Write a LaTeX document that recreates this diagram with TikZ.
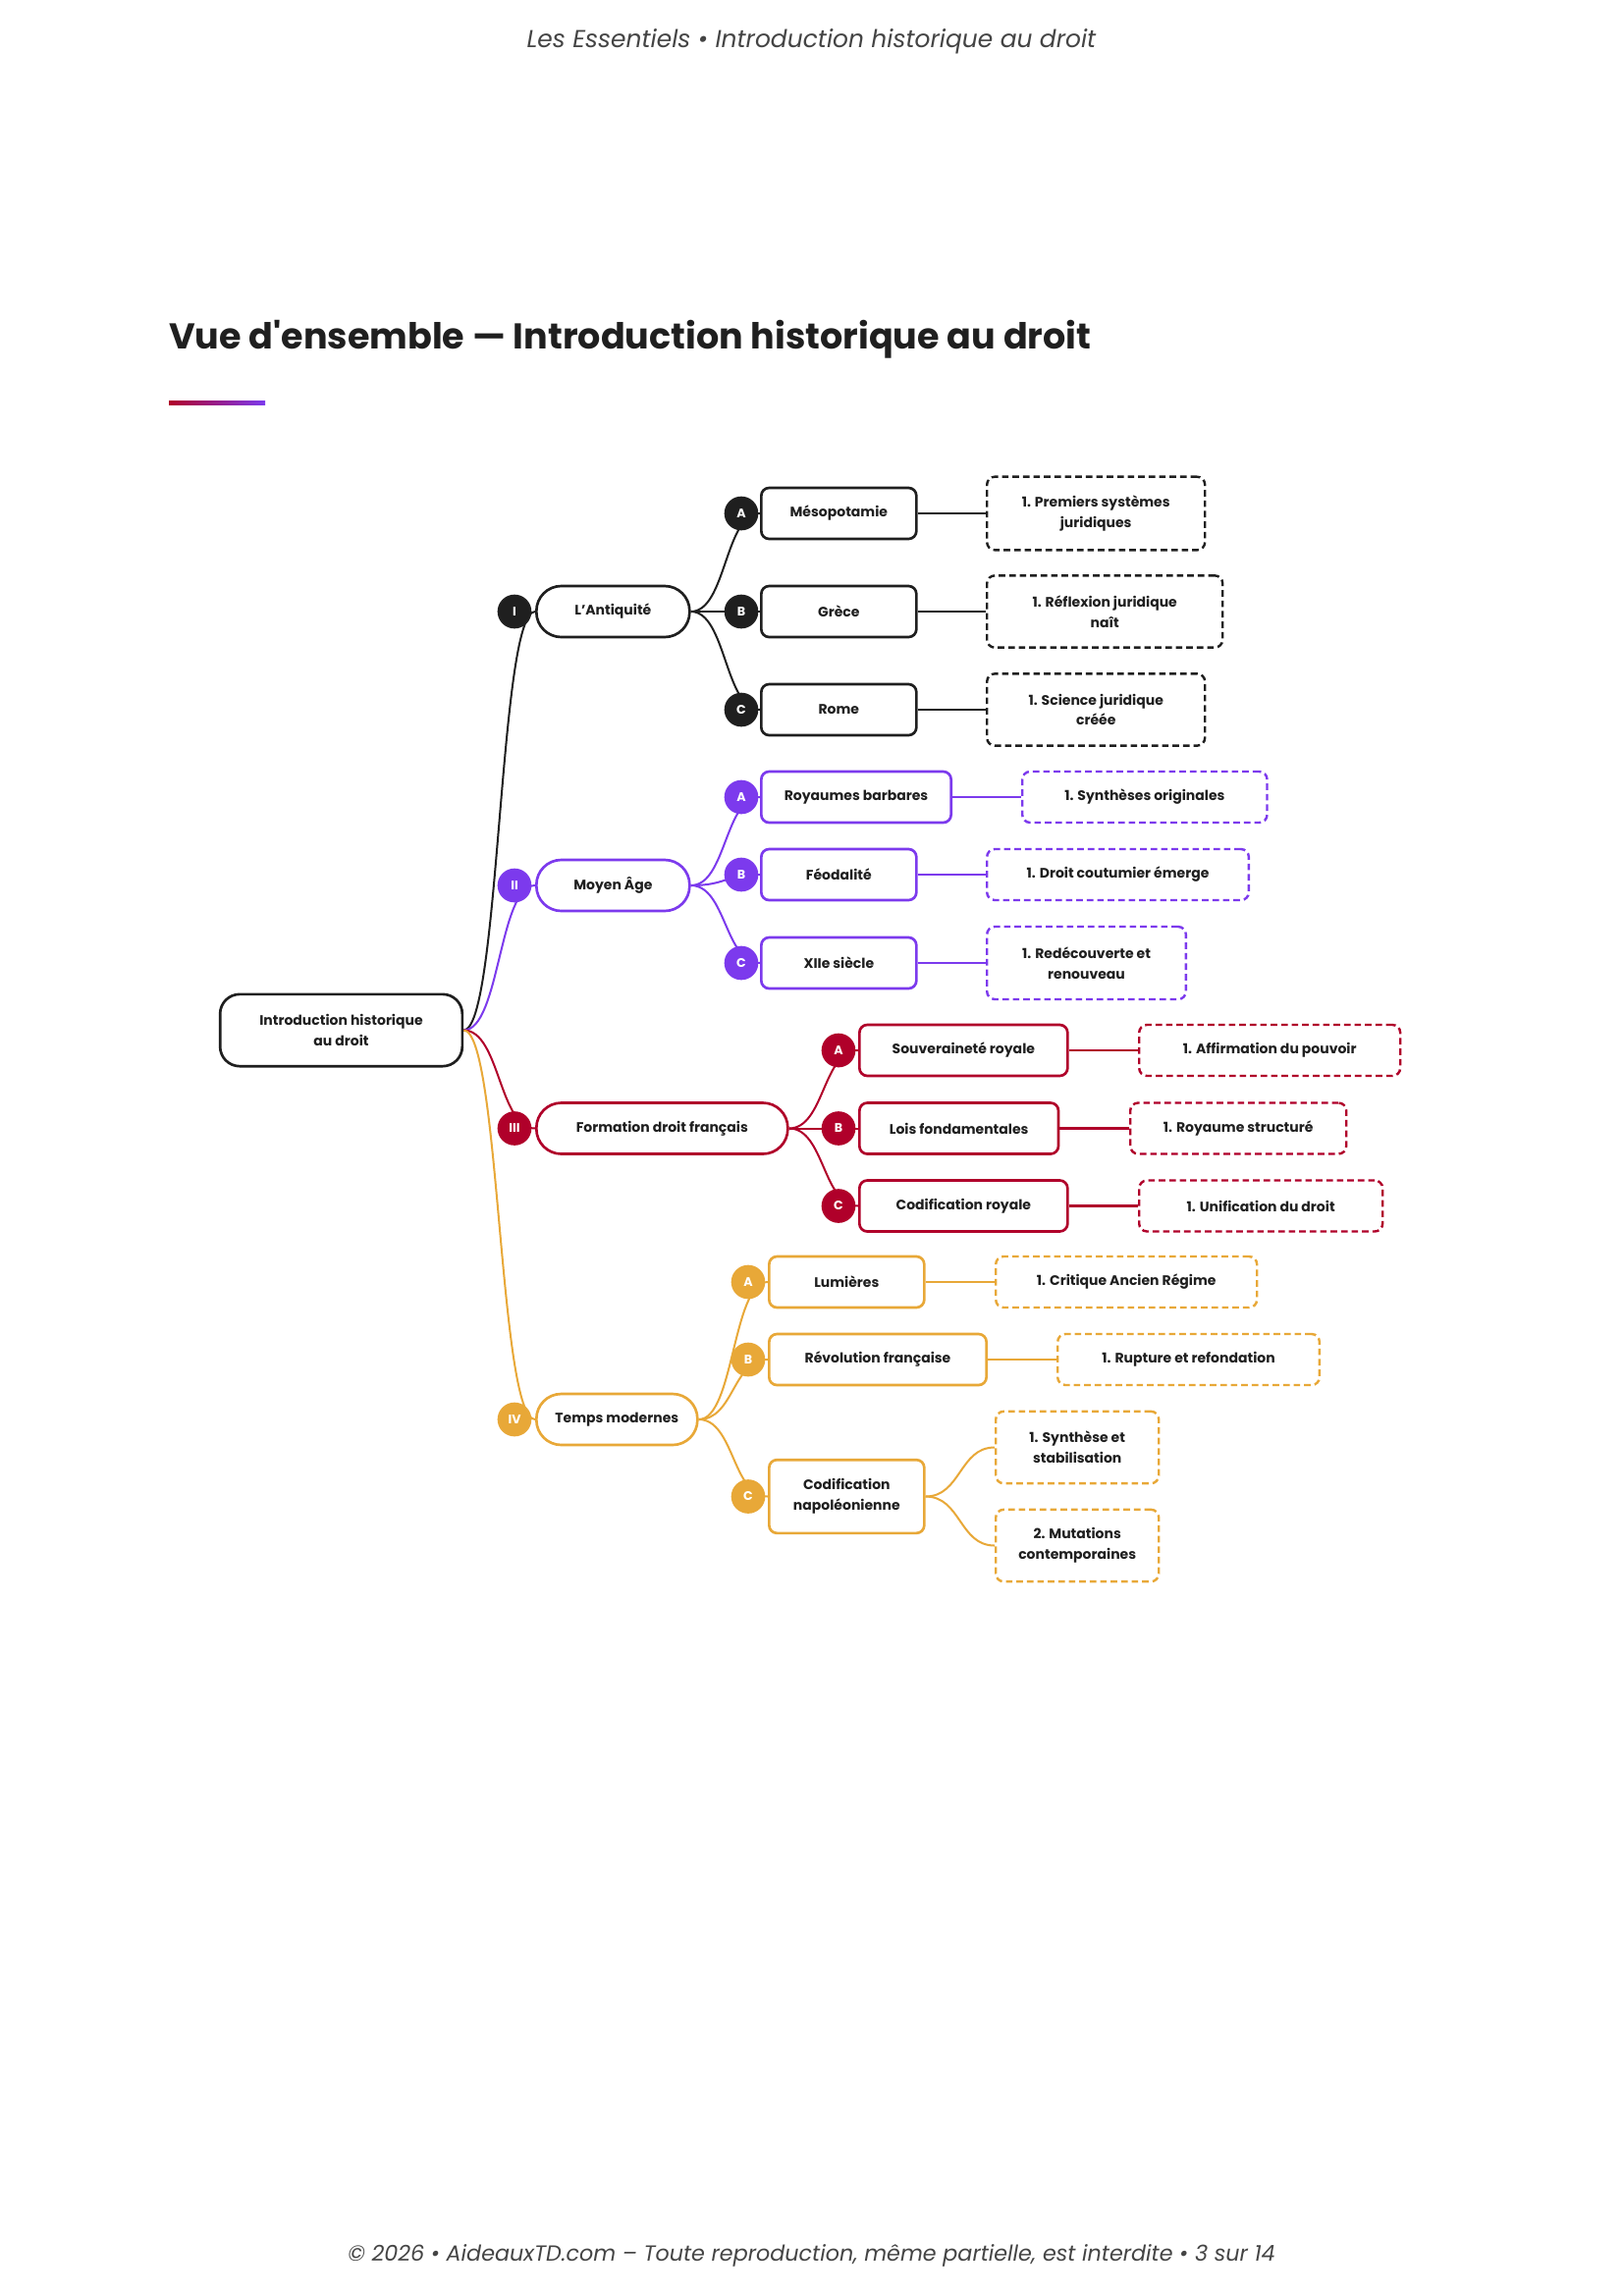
\documentclass[tikz,border=0pt]{standalone}
\usepackage{fontspec}
\setmainfont{Poppins}
\usetikzlibrary{backgrounds}
\definecolor{ink}{HTML}{1F1F1F}
\definecolor{cI}{HTML}{1F1F1F}
\definecolor{cII}{HTML}{7C3AED}
\definecolor{cIII}{HTML}{B0002A}
\definecolor{cIV}{HTML}{E8A838}
\definecolor{greytxt}{HTML}{444444}
\newcommand\mmnodefont{\bfseries\fontsize{10.5}{15.5}\selectfont}
\newcommand\mmbadgefont{\bfseries\fontsize{9.5}{10}\selectfont}
\tikzset{
  lvl/.style={draw=#1, fill=white, line width=2pt, rounded corners=19pt, minimum height=39pt, inner sep=0pt, font=\mmnodefont, text=ink, align=center, anchor=west},
  box/.style={draw=#1, fill=white, line width=2pt, rounded corners=6pt, minimum height=39pt, inner sep=0pt, font=\mmnodefont, text=ink, align=center, anchor=west},
  leaf/.style={box=#1, dash pattern=on 5pt off 3pt, line width=1.8pt},
  badge/.style={circle, fill=#1, minimum size=26pt, inner sep=0pt, text=white, font=\mmbadgefont},
  conn/.style={draw=#1, line width=1.5pt},
  link/.style={draw=#1, line width=2.2pt},
}
\begin{document}
\begin{tikzpicture}[x=0.75pt,y=-0.75pt]
\useasboundingbox (0,0) rectangle (1653,2339);
% header / title / footer
\node[font=\itshape\fontsize{18.7}{22}\selectfont, text=greytxt] (hdr) at (826.5,42) {Les Essentiels • Introduction historique au droit};
\node[anchor=base west, font=\bfseries\fontsize{27.4}{32}\selectfont, text=ink, inner sep=0pt] (title) at (172,355) {Vue d\textquotesingle ensemble — Introduction historique au droit};
\shade[left color=cIII, right color=cII] (172,408) rectangle (270,412);
\node[font=\itshape\fontsize{16.7}{20}\selectfont, text=greytxt] (ftr) at (826.5,2298) {© 2026 • AideauxTD.com – Toute reproduction, même partielle, est interdite • 3 sur 14};

% root
\node[box=cI, anchor=center, minimum width=185pt, minimum height=55pt, rounded corners=15pt] (root) at (347.5,1049.5) {Introduction historique\\au droit};

% level 1
\node[lvl=cI, minimum width=117pt] (p1) at (545,623) {L'Antiquité};
\node[lvl=cII, minimum width=117pt] (p2) at (545,902) {Moyen Âge};
\node[lvl=cIII, minimum width=192pt] (p3) at (545,1149.5) {Formation droit français};
\node[lvl=cIV, minimum width=123pt] (p4) at (545,1446) {Temps modernes};
\node[badge=cI] (b1) at (524,623) {I};
\node[badge=cII] (b2) at (524,902) {II};
\node[badge=cIII] (b3) at (524,1149.5) {III};
\node[badge=cIV] (b4) at (524,1446) {IV};

% level 2 - Antiquite
\node[box=cI, minimum width=118.5pt] (a1) at (774,523) {Mésopotamie};
\node[box=cI, minimum width=118.5pt] (a2) at (774,623) {Grèce};
\node[box=cI, minimum width=118.5pt] (a3) at (774,723) {Rome};
\node[badge=cI] (ba1) at (755,523) {A};
\node[badge=cI] (ba2) at (755,623) {B};
\node[badge=cI] (ba3) at (755,723) {C};
% Moyen Age
\node[box=cII, minimum width=145pt] (m1) at (774,812) {Royaumes barbares};
\node[box=cII, minimum width=118.5pt] (m2) at (774,891) {Féodalité};
\node[box=cII, minimum width=118.5pt] (m3) at (774,981) {XIIe siècle};
\node[badge=cII] (bm1) at (755,812) {A};
\node[badge=cII] (bm2) at (755,891) {B};
\node[badge=cII] (bm3) at (755,981) {C};
% Formation
\node[box=cIII, minimum width=159pt] (f1) at (874,1070) {Souveraineté royale};
\node[box=cIII, minimum width=152pt] (f2) at (874,1149.5) {Lois fondamentales};
\node[box=cIII, minimum width=159pt] (f3) at (874,1228.5) {Codification royale};
\node[badge=cIII] (bf1) at (854,1070) {A};
\node[badge=cIII] (bf2) at (854,1149.5) {B};
\node[badge=cIII] (bf3) at (854,1228.5) {C};
% Temps modernes
\node[box=cIV, minimum width=118.5pt] (t1) at (782,1306) {Lumières};
\node[box=cIV, minimum width=166pt] (t2) at (782,1385) {Révolution française};
\node[box=cIV, minimum width=118.5pt, minimum height=56pt] (t3) at (782,1524.5) {Codification\\napoléonienne};
\node[badge=cIV] (bt1) at (762,1306) {A};
\node[badge=cIV] (bt2) at (762,1385) {B};
\node[badge=cIV] (bt3) at (762,1524.5) {C};

% leaves
\node[leaf=cI, minimum width=166.5pt, minimum height=56pt] (la1) at (1004,523) {1. Premiers systèmes\\juridiques};
\node[leaf=cI, minimum width=180pt, minimum height=55pt] (la2) at (1004,623) {1. Réflexion juridique\\naît};
\node[leaf=cI, minimum width=166.5pt, minimum height=55pt] (la3) at (1004,723) {1. Science juridique\\créée};
\node[leaf=cII, minimum width=187pt] (lm1) at (1040,812) {1. Synthèses originales};
\node[leaf=cII, minimum width=200pt] (lm2) at (1004,891) {1. Droit coutumier émerge};
\node[leaf=cII, minimum width=152pt, minimum height=55.5pt] (lm3) at (1004,981) {1. Redécouverte et\\renouveau};
\node[leaf=cIII, minimum width=199.5pt] (lf1) at (1159,1070) {1. Affirmation du pouvoir};
\node[leaf=cIII, minimum width=165pt] (lf2) at (1150,1149.5) {1. Royaume structuré};
\node[leaf=cIII, minimum width=186pt] (lf3) at (1159,1228.5) {1. Unification du droit};
\node[leaf=cIV, minimum width=199.5pt] (lt1) at (1013,1306) {1. Critique Ancien Régime};
\node[leaf=cIV, minimum width=200pt] (lt2) at (1076,1385) {1. Rupture et refondation};
\node[leaf=cIV, minimum width=124.5pt, minimum height=55pt] (lt3) at (1013,1474.5) {1. Synthèse et\\stabilisation};
\node[leaf=cIV, minimum width=124.5pt, minimum height=55pt] (lt4) at (1013,1574.5) {2. Mutations\\contemporaines};

\begin{pgfonlayer}{background}
\fill[white] (0,0) rectangle (1653,2339);
% root to level 1
\draw[conn=cI] (root.east) .. controls +(37,0) and +(-37,0) .. (p1.west);
\draw[conn=cII] (root.east) .. controls +(37,0) and +(-37,0) .. (p2.west);
\draw[conn=cIII] (root.east) .. controls +(37,0) and +(-37,0) .. (p3.west);
\draw[conn=cIV] (root.east) .. controls +(37,0) and +(-37,0) .. (p4.west);
% level 1 to level 2
\foreach \c in {a1,a2,a3} \draw[conn=cI] (p1.east) .. controls +(36,0) and +(-36,0) .. (\c.west);
\foreach \c in {m1,m2,m3} \draw[conn=cII] (p2.east) .. controls +(36,0) and +(-36,0) .. (\c.west);
\foreach \c in {f1,f2,f3} \draw[conn=cIII] (p3.east) .. controls +(36,0) and +(-36,0) .. (\c.west);
\foreach \c in {t1,t2,t3} \draw[conn=cIV] (p4.east) .. controls +(36,0) and +(-36,0) .. (\c.west);
% level 2 to leaves
\draw[link=cI] (a1.east) -- (la1.west);
\draw[link=cI] (a2.east) -- (la2.west);
\draw[link=cI] (a3.east) -- (la3.west);
\draw[link=cII] (m1.east) -- (lm1.west);
\draw[link=cII] (m2.east) -- (lm2.west);
\draw[link=cII] (m3.east) -- (lm3.west);
\draw[link=cIII] (f1.east) -- (lf1.west);
\draw[link=cIII] (f2.east) -- (lf2.west);
\draw[link=cIII] (f3.east) -- (lf3.west);
\draw[link=cIV] (t1.east) -- (lt1.west);
\draw[link=cIV] (t2.east) -- (lt2.west);
\draw[conn=cIV] (t3.east) .. controls +(36,0) and +(-36,0) .. (lt3.west);
\draw[conn=cIV] (t3.east) .. controls +(36,0) and +(-36,0) .. (lt4.west);
\end{pgfonlayer}
\end{tikzpicture}
\end{document}
